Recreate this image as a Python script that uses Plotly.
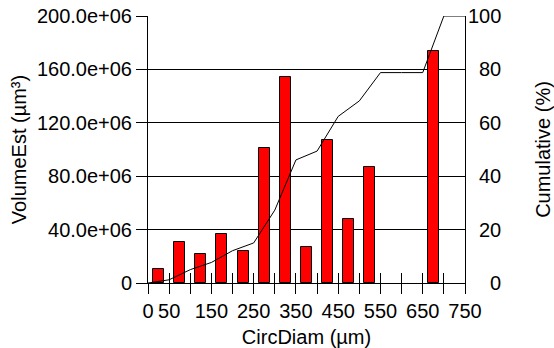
import plotly.graph_objects as go

# Histogram bins (µm) and estimated volume per bin (µm³)
bin_centers = [25, 75, 125, 175, 225, 275, 325, 375, 425, 475, 525, 575, 625, 675, 725]
volumes = [10.2e6, 31.0e6, 22.0e6, 36.5e6, 23.7e6, 100.9e6, 154.1e6, 27.0e6,
           107.1e6, 47.7e6, 87.1e6, 0, 0, 174.0e6, 0]

# Cumulative volume (%) at bin edges
bin_edges = [0, 50, 100, 150, 200, 250, 300, 350, 400, 450, 500, 550, 600, 650, 700, 750]
cumulative = [0, 1.2, 5.0, 7.7, 12.1, 15.0, 27.3, 46.1, 49.4, 62.4, 68.2, 78.8, 78.8, 78.8, 100, 100]

x_tick_text = ["0", "50", "", "150", "", "250", "", "350", "", "450", "", "550", "", "650", "", "750"]
y_tick_vals = [0, 40e6, 80e6, 120e6, 160e6, 200e6]
y_tick_text = ["0", "40.0e+06", "80.0e+06", "120.0e+06", "160.0e+06", "200.0e+06"]
pct_tick_vals = [0, 20, 40, 60, 80, 100]

FONT = "Liberation Sans, Arial, sans-serif"
FS = 20

# empty bins get no outline
bar_outline = [1 if v > 0 else 0 for v in volumes]

fig = go.Figure()
fig.add_bar(
    x=bin_centers, y=volumes, width=26,
    marker=dict(color="#ff0000", line=dict(color="#000000", width=bar_outline)),
    showlegend=False,
)
fig.add_scatter(
    x=bin_edges, y=cumulative, yaxis="y2", mode="lines",
    line=dict(color="#000000", width=1), showlegend=False,
)
# helper trace so the inner tick axis is drawn
fig.add_scatter(x=[None], y=[None], xaxis="x3", yaxis="y", showlegend=False, hoverinfo="skip")

axis_common = dict(color="#000000", linecolor="#000000", tickcolor="#000000", automargin=False,
                   tickfont=dict(family=FONT, size=FS, color="#000000"))

fig.update_layout(
    width=554, height=348,
    margin=dict(l=148, r=89, t=16, b=65),
    paper_bgcolor="white", plot_bgcolor="white",
    font=dict(family=FONT, size=FS, color="#000000"),
    xaxis=dict(
        range=[0, 750], tickmode="array", tickvals=bin_edges, ticktext=x_tick_text,
        ticks="outside", ticklen=10, tickwidth=1, showline=True, linewidth=1,
        showgrid=False, zeroline=False,
        title=dict(text="CircDiam (µm)", font=dict(family=FONT, size=FS), standoff=9),
        **axis_common,
    ),
    xaxis3=dict(
        range=[0, 750], overlaying="x", anchor="y", side="bottom", automargin=False,
        tickmode="array", tickvals=bin_edges, ticks="inside", ticklen=10, tickwidth=1,
        tickcolor="#000000", showticklabels=False, showgrid=False, zeroline=False, showline=False,
    ),
    yaxis=dict(
        range=[0, 200e6], tickmode="array", tickvals=y_tick_vals, ticktext=y_tick_text,
        ticks="outside", ticklen=11, tickwidth=1, showline=True, linewidth=1,
        showgrid=True, gridcolor="#000000", gridwidth=1, zeroline=False,
        title=dict(text="VolumeEst (µm³)", font=dict(family=FONT, size=FS), standoff=4),
        **axis_common,
    ),
    yaxis2=dict(
        range=[0, 100], overlaying="y", side="right", tickmode="array", tickvals=pct_tick_vals,
        showticklabels=False, ticks="", showline=True, linewidth=1, linecolor="#000000",
        showgrid=False, zeroline=False, automargin=False,
        title=dict(text="Cumulative (%)", font=dict(family=FONT, size=FS), standoff=70),
    ),
    bargap=0,
)

# right-aligned percentage labels for the secondary axis
for v in pct_tick_vals:
    fig.add_annotation(
        x=(503 - 148) / 317, xref="paper", y=v, yref="y2",
        text=str(v), showarrow=False, xanchor="right", yanchor="middle",
        font=dict(family=FONT, size=FS, color="#000000"),
    )

fig.write_html("out.html")
